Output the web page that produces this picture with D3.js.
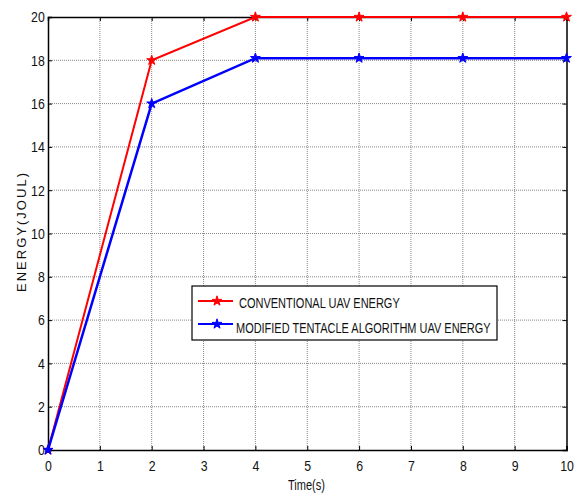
<!DOCTYPE html>
<html>
<head>
<meta charset="utf-8">
<script src="https://cdn.jsdelivr.net/npm/d3@7"></script>
<style>
  body { margin: 0; background: #fff; }
  text { font-family: "Liberation Sans", Arial, sans-serif; fill: #111; }
</style>
</head>
<body>
<div id="chart"></div>
<script>
var timeVals = [0, 2, 4, 6, 8, 10];
var conventional = [0, 18, 20, 20, 20, 20];
var modified = [0, 16, 18.1, 18.1, 18.1, 18.1];
var xTicks = [0, 1, 2, 3, 4, 5, 6, 7, 8, 9, 10];
var yTicks = [0, 2, 4, 6, 8, 10, 12, 14, 16, 18, 20];
var seriesNames = ["CONVENTIONAL UAV ENERGY", "MODIFIED TENTACLE ALGORITHM UAV ENERGY"];
var seriesColors = ["#ff0000", "#0000ff"];

var width = 577, height = 496;
var margin = {top: 17, right: 10, bottom: 46, left: 48};

var svg = d3.select("#chart").append("svg")
    .attr("width", width)
    .attr("height", height);

var x = d3.scaleLinear().domain([0, 10]).range([margin.left, width - margin.right - 0.5]);
var y = d3.scaleLinear().domain([0, 20]).range([height - margin.bottom, margin.top]);

// squeeze a text horizontally to a given width (original uses a condensed font)
function fitWidth(sel, px, py, target) {
  var w = sel.node().getComputedTextLength();
  sel.attr("transform", "translate(" + px + "," + py + ") scale(" + (target / w) + ",1)");
}

// grid
var grid = svg.append("g").attr("class", "grid");
grid.selectAll(".gx").data(xTicks.slice(1, -1)).enter().append("line")
    .attr("x1", d => x(d)).attr("x2", d => x(d))
    .attr("y1", y(0)).attr("y2", y(20))
    .attr("stroke", "#888").attr("stroke-width", 1).attr("stroke-dasharray", "1,1");
grid.selectAll(".gy").data(yTicks.slice(1, -1)).enter().append("line")
    .attr("y1", d => y(d)).attr("y2", d => y(d))
    .attr("x1", x(0)).attr("x2", x(10))
    .attr("stroke", "#888").attr("stroke-width", 1).attr("stroke-dasharray", "1,1");

// axes (ticks inward)
var xAxis = d3.axisBottom(x).tickValues(xTicks).tickSize(-4).tickPadding(10);
var yAxis = d3.axisLeft(y).tickValues(yTicks).tickSize(-4).tickPadding(4);
var xTop = d3.axisTop(x).tickValues(xTicks).tickSize(-4).tickFormat("");
var yRight = d3.axisRight(y).tickValues(yTicks).tickSize(-4).tickFormat("");

function styleAxis(g) {
  g.select(".domain").attr("stroke", "#000").attr("stroke-width", 1.5);
  g.selectAll(".tick line").attr("stroke", "#000");
  g.selectAll(".tick text").style("font-size", "15px").attr("fill", "#111")
      .attr("transform", "scale(0.82,1)");
}
svg.append("g").attr("transform", "translate(0," + y(0) + ")").call(xAxis).call(styleAxis);
svg.append("g").attr("transform", "translate(" + x(0) + ",0)").call(yAxis).call(styleAxis);
svg.append("g").attr("transform", "translate(0," + y(20) + ")").call(xTop).call(styleAxis);
svg.append("g").attr("transform", "translate(" + x(10) + ",0)").call(yRight).call(styleAxis);

// series
var allSeries = [conventional, modified];
var line = d3.line().x((d, i) => x(timeVals[i])).y(d => y(d));
var star = d3.symbol().type(d3.symbolStar).size(30);

allSeries.forEach(function(vals, k) {
  svg.append("path").datum(vals)
      .attr("fill", "none")
      .attr("stroke", seriesColors[k])
      .attr("stroke-width", k === 0 ? 2 : 2.5)
      .attr("d", line);
  svg.selectAll(".m" + k).data(vals).enter().append("path")
      .attr("transform", (d, i) => "translate(" + x(timeVals[i]) + "," + y(d) + ")")
      .attr("d", star)
      .attr("fill", seriesColors[k])
      .attr("stroke", seriesColors[k]);
});

// legend
var lg = svg.append("g").attr("transform", "translate(192,286)");
lg.append("rect").attr("width", 305).attr("height", 54)
    .attr("fill", "#fff").attr("stroke", "#000").attr("stroke-width", 1.2);
var legendTextX = [47, 44];
var legendTextLen = [161, 255];
seriesNames.forEach(function(name, k) {
  var ly = 15 + k * 23;
  lg.append("line").attr("x1", 6).attr("x2", 41).attr("y1", ly).attr("y2", ly)
      .attr("stroke", seriesColors[k]).attr("stroke-width", 2);
  lg.append("path").attr("transform", "translate(25," + ly + ")")
      .attr("d", star).attr("fill", seriesColors[k]).attr("stroke", seriesColors[k]);
  var t = lg.append("text").style("font-size", "15px").text(name);
  fitWidth(t, legendTextX[k], ly + 7 + k * 2, legendTextLen[k]);
});

// axis titles
var xt = svg.append("text").style("font-size", "14px").text("Time(s)");
fitWidth(xt, 288, 490, 37);
svg.append("text")
    .attr("transform", "translate(26,0) rotate(-90)")
    .attr("x", -292)
    .attr("textLength", 119).attr("lengthAdjust", "spacing")
    .style("font-size", "13px")
    .text("ENERGY(JOUL)");
</script>
</body>
</html>
